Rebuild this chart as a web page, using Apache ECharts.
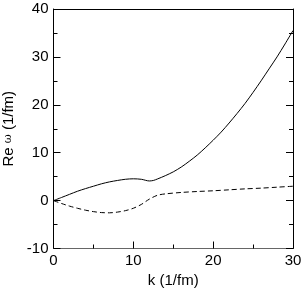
<!DOCTYPE html>
<html><head><meta charset="utf-8">
<script src="https://cdn.jsdelivr.net/npm/echarts@6/dist/echarts.min.js"></script>
<style>html,body{margin:0;padding:0;background:#fff}#c{width:303px;height:290px}</style>
</head><body><div id="c"></div>
<script>
const solidK = [0,1,2,3,4,5,6,7,8,9,10,11,12,12.5,13,14,15,16,17,18,19,20,21,22,23,24,25,26,27,28,29,30];
const solidV = [0,0.65,1.3,1.95,2.5,3.0,3.5,3.9,4.2,4.45,4.55,4.45,4.1,4.2,4.5,5.2,6.0,7.0,8.2,9.5,11.0,12.6,14.3,16.2,18.2,20.3,22.6,25.0,27.5,30.0,32.7,35.5];
const dashK = [0,1,2,3,4,5,6,7,8,9,10,11,12,13,14,16,18,20,22,24,26,28,30];
const dashV = [0,-0.6,-1.15,-1.6,-2.0,-2.3,-2.5,-2.55,-2.4,-2.1,-1.6,-0.8,0.3,1.1,1.4,1.7,1.9,2.05,2.25,2.45,2.6,2.8,3.0];
const xTitle = 'k (1/fm)';
const yTitle = 'Re {w|ω} (1/fm)';

const font = 'Liberation Sans, Arial, sans-serif';
const chart = echarts.init(document.getElementById('c'));
const axisCommon = {
  type: 'value',
  axisLine: {show: true, onZero: false, lineStyle: {color: '#000', width: 1}},
  axisTick: {show: true, inside: true, length: 7, lineStyle: {color: '#000'}},
  minorTick: {show: true, splitNumber: 2, length: 4, lineStyle: {color: '#000'}},
  splitLine: {show: false},
  axisLabel: {color: '#000', fontFamily: font, fontSize: 15}
};
chart.setOption({
  animation: false,
  grid: {left: 53.5, right: 10, top: 9, bottom: 41.5, containLabel: false, outerBoundsMode: 'none'},
  xAxis: [
    Object.assign({}, axisCommon, {min: 0, max: 30, interval: 10, position: 'bottom',
      axisLine: {show: true, onZero: false, lineStyle: {color: '#666', width: 1}},
      axisLabel: {color: '#000', fontFamily: font, fontSize: 15, margin: 5},
      name: xTitle, nameLocation: 'middle', nameGap: 23,
      nameTextStyle: {color: '#000', fontFamily: font, fontSize: 15}}),
    {type: 'value', min: 0, max: 30, position: 'top',
      axisLine: {show: true, onZero: false, lineStyle: {color: '#000'}},
      axisTick: {show: false}, axisLabel: {show: false}, splitLine: {show: false}}
  ],
  yAxis: [
    Object.assign({}, axisCommon, {min: -10, max: 40, interval: 10, position: 'left',
      axisLabel: {color: '#000', fontFamily: font, fontSize: 15, margin: 5},
      name: yTitle, nameLocation: 'middle', nameGap: 36, nameRotate: 90,
      nameTextStyle: {color: '#000', fontFamily: font, fontSize: 15,
        rich: {w: {fontFamily: 'DejaVu Serif, serif', fontSize: 11, color: '#000'}}}}),
    Object.assign({}, axisCommon, {min: -10, max: 40, interval: 10, position: 'right',
      axisLabel: {show: false}})
  ],
  series: [
    {type: 'line', data: solidK.map((k, i) => [k, solidV[i]]), smooth: 0.3, showSymbol: false,
      lineStyle: {color: '#000', width: 1}},
    {type: 'line', data: dashK.map((k, i) => [k, dashV[i]]), smooth: 0.3, showSymbol: false,
      lineStyle: {color: '#000', width: 1, type: [5, 3]}}
  ]
});
</script></body></html>
